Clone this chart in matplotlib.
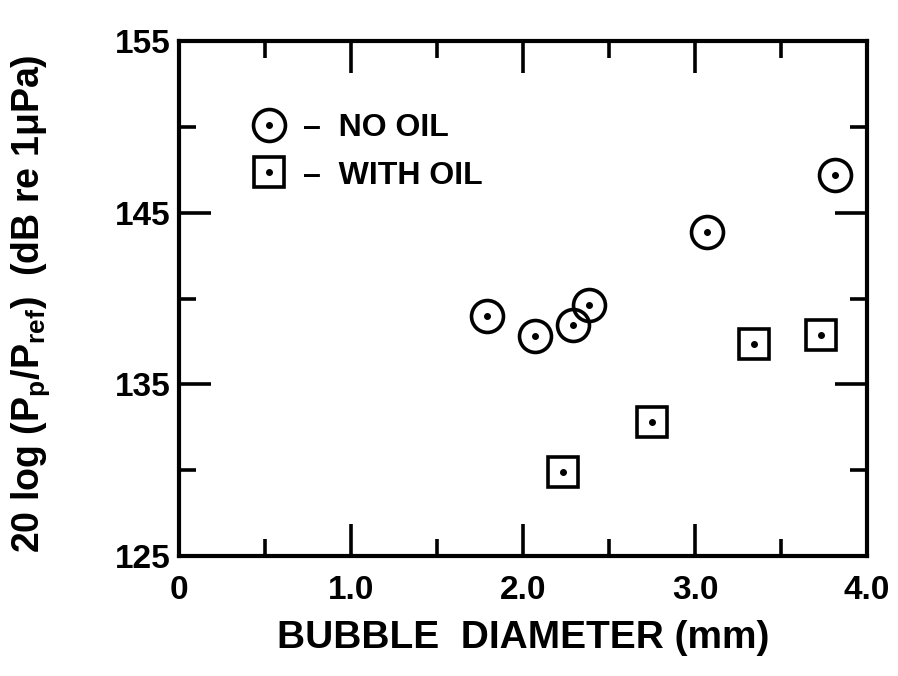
import matplotlib
matplotlib.use("Agg")
import matplotlib.pyplot as plt
from matplotlib.lines import Line2D
from matplotlib.legend_handler import HandlerTuple
from matplotlib.ticker import MultipleLocator, FixedLocator

# data
no_oil_d = [1.79, 2.07, 2.29, 2.385, 3.07, 3.816]
no_oil_db = [138.98, 137.82, 138.46, 139.61, 143.9, 147.2]
oil_d = [2.234, 2.75, 3.345, 3.733]
oil_db = [129.92, 132.79, 137.35, 137.88]

x_ticks = [0, 1, 2, 3, 4]
x_labels = ["0", "1.0", "2.0", "3.0", "4.0"]
y_ticks = [125, 135, 145, 155]
y_labels = ["125", "135", "145", "155"]

plt.rcParams['font.family'] = ['Liberation Sans', 'DejaVu Sans']
plt.rcParams['font.weight'] = 'bold'
plt.rcParams['axes.labelweight'] = 'bold'
plt.rcParams['mathtext.fontset'] = 'custom'
plt.rcParams['mathtext.rm'] = 'Liberation Sans:bold'
plt.rcParams['mathtext.it'] = 'Liberation Sans:bold'
plt.rcParams['mathtext.bf'] = 'Liberation Sans:bold'

fig = plt.figure(figsize=(8.98, 6.76), dpi=100)
ax = fig.add_axes([179/898, 1 - 556/676, 688/898, 515/676])

lw = 2.6
ms = 23
# circles
ax.plot(no_oil_d, no_oil_db, ls='none', marker='o', ms=ms, mfc='none', mec='black', mew=lw)
ax.plot(no_oil_d, no_oil_db, ls='none', marker='o', ms=4, mfc='black', mec='black')
# squares
ax.plot(oil_d, oil_db, ls='none', marker='s', ms=ms - 1, mfc='none', mec='black', mew=lw)
ax.plot(oil_d, oil_db, ls='none', marker='o', ms=4, mfc='black', mec='black')

ax.set_xlim(0, 4)
ax.set_ylim(125, 155)

ax.xaxis.set_major_locator(FixedLocator(x_ticks))
ax.set_xticklabels(x_labels)
ax.xaxis.set_minor_locator(MultipleLocator(0.5))
ax.yaxis.set_major_locator(FixedLocator(y_ticks))
ax.set_yticklabels(y_labels)
ax.yaxis.set_minor_locator(MultipleLocator(5))

for s in ax.spines.values():
    s.set_linewidth(lw + 0.4)

ax.tick_params(which='both', direction='in', top=True, right=True, width=lw, labelsize=24)
ax.tick_params(which='major', length=23)
ax.tick_params(axis='x', which='major', pad=14)
ax.tick_params(axis='y', which='major', pad=6)
ax.tick_params(which='minor', length=12)

ax.set_xlabel("BUBBLE  DIAMETER (mm)", fontsize=28, labelpad=10)
ax.set_ylabel("20 log (P$_\\mathrm{p}$/P$_\\mathrm{ref}$)  (dB re 1\u03bcPa)", fontsize=27)
ax.yaxis.set_label_coords(-0.184, 0.49)

h_circ = (Line2D([], [], ls='none', marker='o', ms=ms, mfc='none', mec='black', mew=lw),
          Line2D([], [], ls='none', marker='o', ms=4, mfc='black', mec='black'))
h_sq = (Line2D([], [], ls='none', marker='s', ms=ms - 1, mfc='none', mec='black', mew=lw),
        Line2D([], [], ls='none', marker='o', ms=4, mfc='black', mec='black'))
ax.legend([h_circ, h_sq], ["\u2013  NO OIL", "\u2013  WITH OIL"],
          handler_map={tuple: HandlerTuple(ndivide=1, pad=0)},
          loc='upper left', bbox_to_anchor=(0.085, 0.885), frameon=False,
          fontsize=23, handlelength=1.2, handletextpad=0.45, labelspacing=0.55,
          borderaxespad=0)

fig.savefig("out.png", dpi=100)
